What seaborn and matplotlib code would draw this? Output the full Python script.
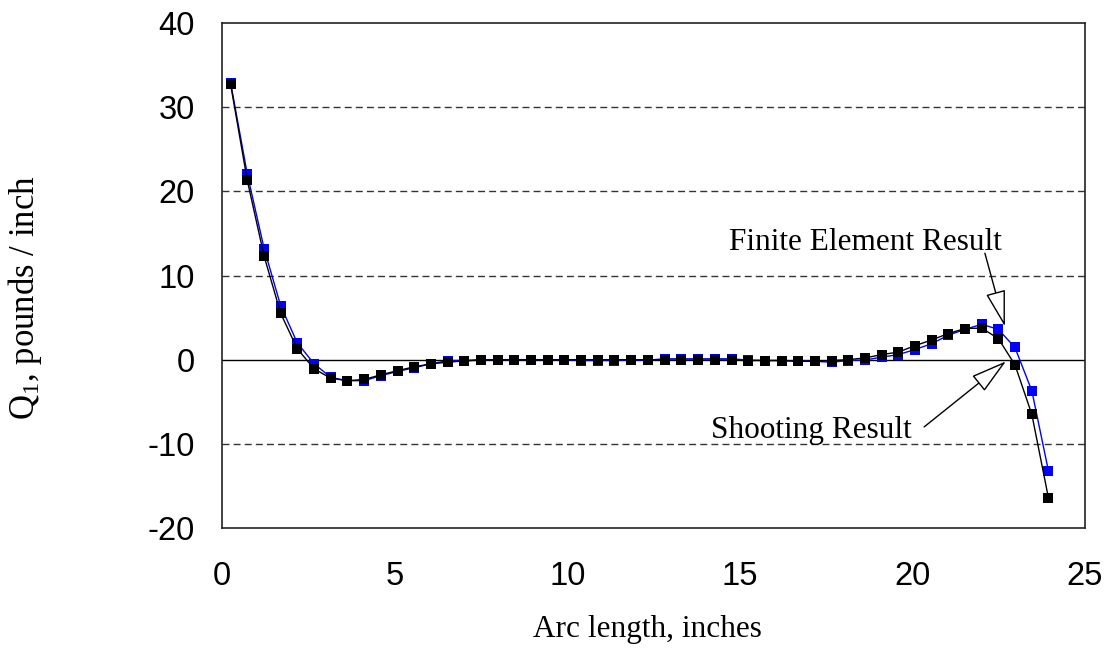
import matplotlib
matplotlib.use("Agg")
import matplotlib.pyplot as plt
import seaborn as sns
from matplotlib.patches import FancyArrowPatch
from matplotlib.ticker import MultipleLocator

# ---- data ----
arc_length = [0.25, 0.73, 1.22, 1.70, 2.18, 2.67, 3.15, 3.63, 4.12, 4.60,
              5.09, 5.57, 6.05, 6.54, 7.02, 7.50, 7.99, 8.47, 8.95, 9.44,
              9.92, 10.40, 10.89, 11.37, 11.85, 12.34, 12.82, 13.30, 13.79, 14.27,
              14.76, 15.24, 15.72, 16.21, 16.69, 17.17, 17.66, 18.14, 18.62, 19.11,
              19.59, 20.07, 20.56, 21.04, 21.52, 22.01, 22.49, 22.97, 23.46, 23.94]

finite_element_q1 = [32.9, 22.1, 13.2, 6.4, 2.0, -0.5, -2.1, -2.5, -2.5, -1.9,
                     -1.4, -0.95, -0.5, -0.1, -0.1, 0.0, 0.0, 0.0, 0.0, 0.0,
                     0.0, -0.1, -0.1, -0.1, -0.05, -0.05, 0.1, 0.1, 0.1, 0.1,
                     0.1, -0.05, -0.1, -0.1, -0.15, -0.2, -0.3, -0.1, -0.05, 0.3,
                     0.6, 1.2, 1.9, 2.9, 3.6, 4.2, 3.6, 1.45, -3.7, -13.2]

shooting_q1 = [32.7, 21.35, 12.3, 5.5, 1.3, -1.1, -2.2, -2.5, -2.35, -1.8,
               -1.3, -0.85, -0.5, -0.3, -0.15, -0.05, 0.0, 0.0, 0.0, 0.0,
               0.0, 0.0, 0.0, 0.0, 0.0, 0.0, -0.05, -0.05, -0.05, -0.05,
               -0.05, -0.1, -0.1, -0.1, -0.2, -0.2, -0.1, 0.0, 0.2, 0.6,
               0.9, 1.65, 2.35, 3.1, 3.7, 3.75, 2.5, -0.6, -6.5, -16.4]

x_ticks = [0, 5, 10, 15, 20, 25]
y_ticks = [-20, -10, 0, 10, 20, 30, 40]
grid_levels = [-10, 10, 20, 30]

# ---- style ----
sns.set_theme(style="white")
plt.rcParams['font.family'] = ['Liberation Sans', 'DejaVu Sans']
plt.rcParams['axes.unicode_minus'] = False
plt.rcParams['mathtext.fontset'] = 'custom'
plt.rcParams['mathtext.rm'] = 'Liberation Serif'
plt.rcParams['mathtext.it'] = 'Liberation Serif:italic'

W, H = 1107, 651
fig = plt.figure(figsize=(W / 100, H / 100), dpi=100)
ax = fig.add_axes([222 / W, 1 - 528 / H, (1085 - 222) / W, (528 - 23) / H])

# grid and zero line
ax.hlines(grid_levels, 0, 25, colors='#333333', linestyles=(0, (5, 3)), linewidth=1.0, zorder=1)
ax.axhline(0, color='black', linewidth=1.0, zorder=1)

# series
sns.lineplot(x=arc_length, y=finite_element_q1, ax=ax, color='#0000ff', marker='s',
             markersize=6.5, markeredgewidth=0, linewidth=1.0, sort=False, zorder=3)
sns.lineplot(x=arc_length, y=shooting_q1, ax=ax, color='black', marker='s',
             markersize=6.5, markeredgewidth=0, linewidth=1.0, sort=False, zorder=4)

ax.set_xlim(0, 25)
ax.set_ylim(-20, 40)
ax.set_xticks(x_ticks)
ax.set_yticks(y_ticks)
ax.set_xticklabels([str(v) for v in x_ticks])
ax.set_yticklabels([str(v) for v in y_ticks])
ax.xaxis.set_minor_locator(MultipleLocator(2.5))
ax.yaxis.set_minor_locator(MultipleLocator(5))

ax.tick_params(axis='both', which='major', direction='inout', length=11, width=1.0,
               color='#222222', labelsize=23.5, labelcolor='black')
ax.tick_params(axis='both', which='minor', direction='inout', length=7, width=1.0,
               color='#222222')
ax.tick_params(axis='x', which='major', pad=18)
ax.tick_params(axis='y', which='major', pad=14)
for t in ax.get_xticklabels() + ax.get_yticklabels():
    t.set_family(['Liberation Sans', 'DejaVu Sans'])

for s in ax.spines.values():
    s.set_visible(True)
    s.set_color('#222222')
    s.set_linewidth(1.2)

serif = ['Liberation Serif', 'DejaVu Serif']
ax.set_xlabel('Arc length, inches', fontsize=22.5, family=serif, color='black')
ax.xaxis.label.set_va('center')
ax.xaxis.set_label_coords((647 - 222) / 863, (528 - 630) / 505)

ax.set_ylabel('Q$_{\\mathrm{1}}$, pounds / inch', fontsize=25, family=serif, color='black')
ax.yaxis.label.set_va('center')
ax.yaxis.set_label_coords((25 - 222) / 863, (528 - 298) / 505)

# annotations
ax.text(22.59, 13.05, 'Finite Element Result', ha='right', va='baseline',
        fontsize=22.5, family=serif, color='black', zorder=6)
ax.text(19.98, -9.25, 'Shooting Result', ha='right', va='baseline',
        fontsize=22.5, family=serif, color='black', zorder=6)

arrow_style = '-|>,head_length=23,head_width=6.3'
ax.add_patch(FancyArrowPatch((22.1, 12.65), (22.68, 3.95), arrowstyle=arrow_style,
                             mutation_scale=1, fc='white', ec='black', lw=1.0,
                             shrinkA=0, shrinkB=0, zorder=6))
ax.add_patch(FancyArrowPatch((20.34, -7.99), (22.71, -0.2), arrowstyle=arrow_style,
                             mutation_scale=1, fc='white', ec='black', lw=1.0,
                             shrinkA=0, shrinkB=0, zorder=6))

fig.savefig('out.png', dpi=100, facecolor='white')
